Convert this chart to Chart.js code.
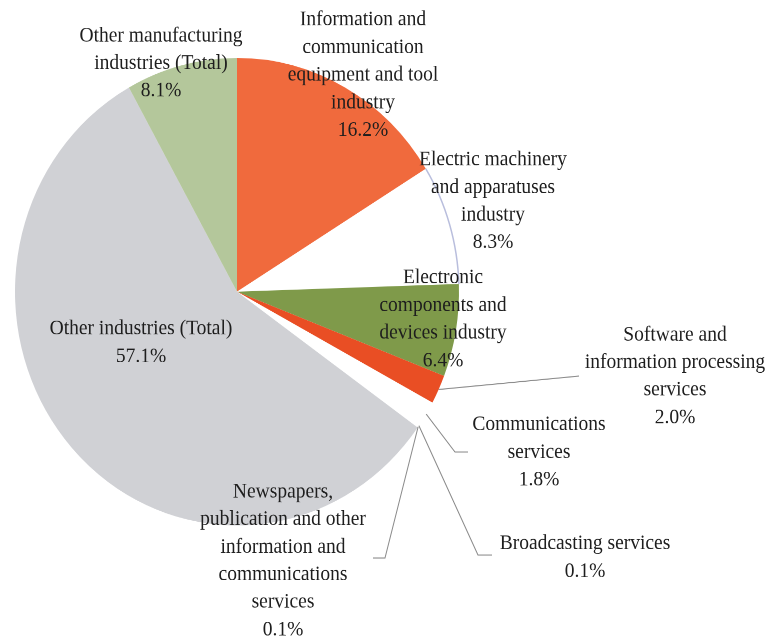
<!DOCTYPE html>
<html>
<head>
<meta charset="utf-8">
<script src="https://cdn.jsdelivr.net/npm/chart.js@4.4.1/dist/chart.umd.min.js"></script>
<style>
html,body{margin:0;padding:0;background:#fff}
#page{width:769px;height:636px;position:relative}
/* the source picture is a bit taller than wide, so stretch the whole canvas */
#wrap{position:absolute;left:0;top:0;width:769px;height:604px;transform:scaleY(1.053);transform-origin:0 0}
</style>
</head>
<body>
<div id="page"><div id="wrap"><canvas id="pie" width="769" height="604"></canvas></div></div>
<script>
const S = 1.053;

const categories = [
'Information and communication equipment and tool industry',
'Electric machinery and apparatuses industry',
'Electronic components and devices industry',
'Software and information processing services',
'Communications services',
'Broadcasting services',
'Newspapers, publication and other information and communications services',
'Other industries (Total)',
'Other manufacturing industries (Total)'
];

const values = [16.2, 8.3, 6.4, 2.0, 1.8, 0.1, 0.1, 57.1, 8.1];

const labelLines = [
['Information and','communication','equipment and tool','industry'],
['Electric machinery','and apparatuses','industry'],
['Electronic','components and','devices industry'],
['Software and','information processing','services'],
['Communications','services'],
['Broadcasting services'],
['Newspapers,','publication and other','information and','communications','services'],
['Other industries (Total)'],
['Other manufacturing','industries (Total)']
];

const colors = ['#f06a3d','#ffffff','#7f9a4a','#e94e24','#ffffff','#ffffff','#ffffff','#d0d1d5','#b4c79b'];

// label block centre x and first line y, in page pixels
const labelPos = [
[363,20],[493,160],[443,278],[675,335],[539,425],[585,544],[283,492],[141,329],[161,36]
];
const lineGap = 27.6;

// leader lines: slice index and the bend/end points (page pixels)
const leaders = [
{i:3, pts:[[579,376]]},
{i:4, pts:[[455,452],[468,452]]},
{i:5, pts:[[478,555],[492,555]]},
{i:6, pts:[[385,558],[373,558]]}
];

const labelPlugin = {
id:'labels',
afterDraw(chart){

const ctx = chart.ctx;
const arcs = chart.getDatasetMeta(0).data;

// outline on the white slice's rim only
const a = arcs[1];
ctx.save();
ctx.strokeStyle = '#b9bedd';
ctx.lineWidth = 1.5;
ctx.beginPath();
ctx.arc(a.x, a.y, a.outerRadius, a.startAngle, a.endAngle);
ctx.stroke();

ctx.strokeStyle = '#8a8a8a';
ctx.lineWidth = 1;
leaders.forEach(l=>{
const arc = arcs[l.i];
const mid = (arc.startAngle + arc.endAngle)/2;
ctx.beginPath();
ctx.moveTo(arc.x + Math.cos(mid)*arc.outerRadius, arc.y + Math.sin(mid)*arc.outerRadius);
l.pts.forEach(p=>ctx.lineTo(p[0], p[1]/S));
ctx.stroke();
});

ctx.fillStyle = '#1e1e1e';
ctx.font = '19.5px "Liberation Serif", "Times New Roman", serif';
ctx.textAlign = 'center';
ctx.textBaseline = 'middle';
labelLines.forEach((lines,i)=>{
const all = lines.concat([values[i].toFixed(1)+'%']);
all.forEach((t,k)=>{
ctx.fillText(t, labelPos[i][0], (labelPos[i][1] + k*lineGap)/S);
});
});
ctx.restore();
}
};

new Chart(document.getElementById('pie'),{
type:'pie',
data:{
labels:categories,
datasets:[{
data:values,
backgroundColor:colors,
borderWidth:0
}]
},
options:{
responsive:false,
animation:false,
devicePixelRatio:2,
layout:{padding:{left:15,right:310,top:55,bottom:105}},
plugins:{
legend:{display:false},
tooltip:{enabled:false}
}
},
plugins:[labelPlugin]
});
</script>
</body>
</html>
